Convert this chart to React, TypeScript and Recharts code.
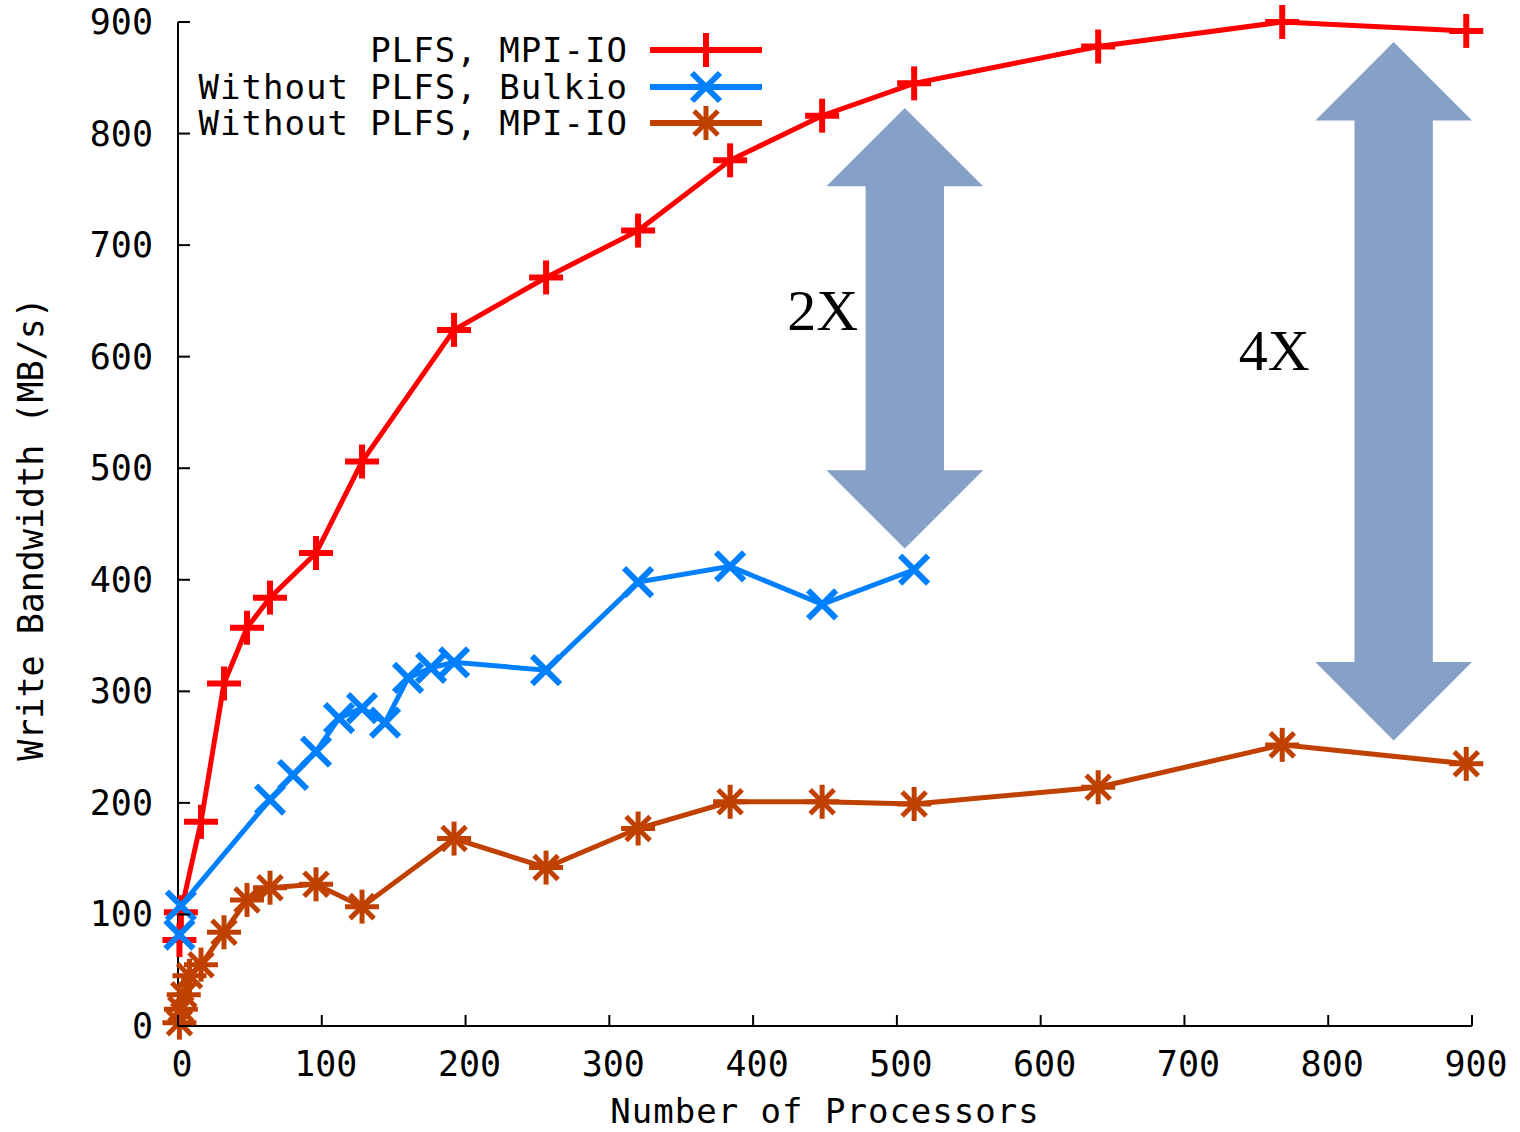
import React from "react";
import {
  Line,
  LineChart,
  ReferenceArea,
  ReferenceDot,
  XAxis,
  YAxis,
} from "recharts";

// Write bandwidth vs. number of processors (gnuplot-style figure with two
// hand-drawn "2X" / "4X" double arrows on top).

const SERIES_NAMES = ["PLFS, MPI-IO", "Without PLFS, Bulkio", "Without PLFS, MPI-IO"];
const SERIES_COLORS = ["#ff0000", "#0080ff", "#c04000"];

const plfsProcs = [1, 2, 16, 32, 48, 64, 96, 128, 192, 256, 320, 384, 448, 512, 640, 768, 896];
const plfsMBs = [77, 102, 183, 307, 357, 384, 424, 506, 624, 671, 713, 776, 816, 845, 878, 900, 892];

const bulkioProcs = [1, 2, 64, 80, 96, 112, 128, 144, 160, 176, 192, 256, 320, 384, 448, 512];
const bulkioMBs = [82, 108, 203, 225, 246, 276, 285, 272, 312, 321, 326, 319, 398, 412, 378, 409];

const mpiioProcs = [1, 2, 4, 8, 16, 32, 48, 64, 96, 128, 192, 256, 320, 384, 448, 512, 640, 768, 896];
const mpiioMBs = [3, 15, 28, 45, 55, 84, 113, 124, 127, 107, 168, 142, 177, 201, 201, 199, 214, 252, 235];

const xTicks = [0, 100, 200, 300, 400, 500, 600, 700, 800, 900];
const yTicks = [0, 100, 200, 300, 400, 500, 600, 700, 800, 900];

// annotation arrows: head extent in x, tip-to-tip in y (data units)
const arrowX1 = [451, 791];
const arrowX2 = [560, 900];
const arrowY1 = [428, 256];
const arrowY2 = [823, 882];
const arrowText = ["2X", "4X"];
const arrowTextX = [473, 787];
const arrowTextY = [624, 588];

const ARROW_FILL = "#87a0c8";
const MONO = "'DejaVu Sans Mono', 'Liberation Mono', monospace";

const toPoints = (xs: number[], ys: number[]) => xs.map((x, i) => ({ x, y: ys[i] }));
const seriesData = [
  toPoints(plfsProcs, plfsMBs),
  toPoints(bulkioProcs, bulkioMBs),
  toPoints(mpiioProcs, mpiioMBs),
];

function Marker({ kind, cx, cy, color }: { kind: number; cx: number; cy: number; color: string }) {
  const s = 17;
  const d = 14;
  if (kind === 0) {
    return (
      <g>
        <line x1={cx - s} y1={cy} x2={cx + s} y2={cy} stroke={color} strokeWidth={6} />
        <line x1={cx} y1={cy - s} x2={cx} y2={cy + s} stroke={color} strokeWidth={6} />
      </g>
    );
  }
  if (kind === 1) {
    return (
      <g>
        <line x1={cx - d} y1={cy - d} x2={cx + d} y2={cy + d} stroke={color} strokeWidth={6} />
        <line x1={cx - d} y1={cy + d} x2={cx + d} y2={cy - d} stroke={color} strokeWidth={6} />
      </g>
    );
  }
  return (
    <g>
      <line x1={cx - s} y1={cy} x2={cx + s} y2={cy} stroke={color} strokeWidth={5} />
      <line x1={cx} y1={cy - s} x2={cx} y2={cy + s} stroke={color} strokeWidth={5} />
      <line x1={cx - 12} y1={cy - 12} x2={cx + 12} y2={cy + 12} stroke={color} strokeWidth={5} />
      <line x1={cx - 12} y1={cy + 12} x2={cx + 12} y2={cy - 12} stroke={color} strokeWidth={5} />
    </g>
  );
}

function DoubleArrow(props: any) {
  const { x, y, width, height } = props;
  const cx = x + width / 2;
  const shaft = width / 4;
  const head = width / 2;
  const top = y;
  const bot = y + height;
  const pts = [
    [cx, top],
    [x + width, top + head],
    [cx + shaft, top + head],
    [cx + shaft, bot - head],
    [x + width, bot - head],
    [cx, bot],
    [x, bot - head],
    [cx - shaft, bot - head],
    [cx - shaft, top + head],
    [x, top + head],
  ];
  return <polygon points={pts.map((p) => p.join(",")).join(" ")} fill={ARROW_FILL} stroke="none" />;
}

function BottomTick(props: any) {
  const { x, y, payload } = props;
  return (
    <g>
      <line x1={x} y1={y} x2={x} y2={y - 11} stroke="#000" strokeWidth={2} />
      <text x={x + 4} y={y + 38} textAnchor="middle" dominantBaseline="central" fontFamily={MONO} fontSize={35} fill="#000">
        {payload.value}
      </text>
    </g>
  );
}

function TopTick(props: any) {
  const { x, y } = props;
  return <line x1={x} y1={y} x2={x} y2={y + 11} stroke="#000" strokeWidth={2} />;
}

function LeftTick(props: any) {
  const { x, y, payload } = props;
  return (
    <g>
      <line x1={x} y1={y} x2={x + 12} y2={y} stroke="#000" strokeWidth={2} />
      <text x={x - 25} y={y} textAnchor="end" dominantBaseline="central" fontFamily={MONO} fontSize={35} fill="#000">
        {payload.value}
      </text>
    </g>
  );
}

function RightTick(props: any) {
  const { x, y } = props;
  return <line x1={x} y1={y} x2={x - 12} y2={y} stroke="#000" strokeWidth={2} />;
}

function LegendBox() {
  return (
    <div style={{ position: "absolute", left: 180, top: 32 }}>
      {SERIES_NAMES.map((name, i) => (
        <div key={name} style={{ display: "flex", alignItems: "center", height: 36.6 }}>
          <div
            style={{
              width: 448,
              textAlign: "right",
              fontFamily: MONO,
              fontSize: 34,
              letterSpacing: "1px",
              lineHeight: "34px",
              color: "#000",
              whiteSpace: "pre",
            }}
          >
            {name}
          </div>
          <svg width={134} height={36}>
            <line x1={22} y1={18} x2={134} y2={18} stroke={SERIES_COLORS[i]} strokeWidth={6} />
            <Marker kind={i} cx={78} cy={18} color={SERIES_COLORS[i]} />
          </svg>
        </div>
      ))}
    </div>
  );
}

export default function App() {
  return (
    <div style={{ position: "absolute", left: 0, top: 0, width: 1520, height: 1132, background: "#fff" }}>
      <LineChart width={1520} height={1132} margin={{ top: 22, right: 48, bottom: 0, left: 0 }}>
        <XAxis
          xAxisId={0}
          type="number"
          dataKey="x"
          domain={[0, 900]}
          ticks={xTicks}
          height={106}
          tickSize={0}
          tickMargin={0}
          tickLine={false}
          axisLine={{ stroke: "#000", strokeWidth: 2 }}
          tick={<BottomTick />}
          label={{
            content: (p: any) => {
              const vb = p.viewBox;
              return (
                <text x={vb.x + vb.width / 2} y={vb.y + 85} textAnchor="middle" dominantBaseline="central" fontFamily={MONO} fontSize={34} letterSpacing={1} fill="#000">
                  Number of Processors
                </text>
              );
            },
          }}
        />
        <XAxis
          xAxisId="top"
          orientation="top"
          type="number"
          domain={[0, 900]}
          ticks={xTicks}
          height={0}
          tickSize={0}
          tickMargin={0}
          tickLine={false}
          axisLine={{ stroke: "#000", strokeWidth: 2 }}
          tick={<TopTick />}
        />
        <YAxis
          yAxisId={0}
          type="number"
          domain={[0, 900]}
          ticks={yTicks}
          width={178}
          tickSize={0}
          tickMargin={0}
          tickLine={false}
          axisLine={{ stroke: "#000", strokeWidth: 2 }}
          tick={<LeftTick />}
          label={{
            content: (p: any) => {
              const vb = p.viewBox;
              const cx = vb.x + 31;
              const cy = vb.y + vb.height / 2 + 5;
              return (
                <text
                  x={cx}
                  y={cy}
                  transform={`rotate(-90 ${cx} ${cy})`}
                  textAnchor="middle"
                  dominantBaseline="central"
                  fontFamily={MONO}
                  fontSize={35}
                  fill="#000"
                >
                  Write Bandwidth (MB/s)
                </text>
              );
            },
          }}
        />
        <YAxis
          yAxisId="right"
          orientation="right"
          type="number"
          domain={[0, 900]}
          ticks={yTicks}
          width={0}
          tickSize={0}
          tickMargin={0}
          tickLine={false}
          axisLine={{ stroke: "#000", strokeWidth: 2 }}
          tick={<RightTick />}
        />

        {seriesData.map((data, i) => (
          <Line
            key={SERIES_NAMES[i]}
            data={data}
            dataKey="y"
            name={SERIES_NAMES[i]}
            type="linear"
            stroke={SERIES_COLORS[i]}
            strokeWidth={5}
            isAnimationActive={false}
            dot={(p: any) => <Marker key={`${i}-${p.index}`} kind={i} cx={p.cx} cy={p.cy} color={SERIES_COLORS[i]} />}
            activeDot={false}
          />
        ))}

        {arrowText.map((t, i) => (
          <ReferenceArea
            key={`arrow-${t}`}
            x1={arrowX1[i]}
            x2={arrowX2[i]}
            y1={arrowY1[i]}
            y2={arrowY2[i]}
            ifOverflow="visible"
            shape={<DoubleArrow />}
          />
        ))}
        {arrowText.map((t, i) => (
          <ReferenceDot
            key={`label-${t}`}
            x={arrowTextX[i]}
            y={arrowTextY[i]}
            r={0}
            ifOverflow="visible"
            shape={(p: any) => (
              <text x={p.cx} y={p.cy} textAnchor="end" fontFamily="'Liberation Serif', 'Times New Roman', serif" fontSize={58} fill="#000">
                {t}
              </text>
            )}
          />
        ))}
      </LineChart>
      <LegendBox />
    </div>
  );
}
